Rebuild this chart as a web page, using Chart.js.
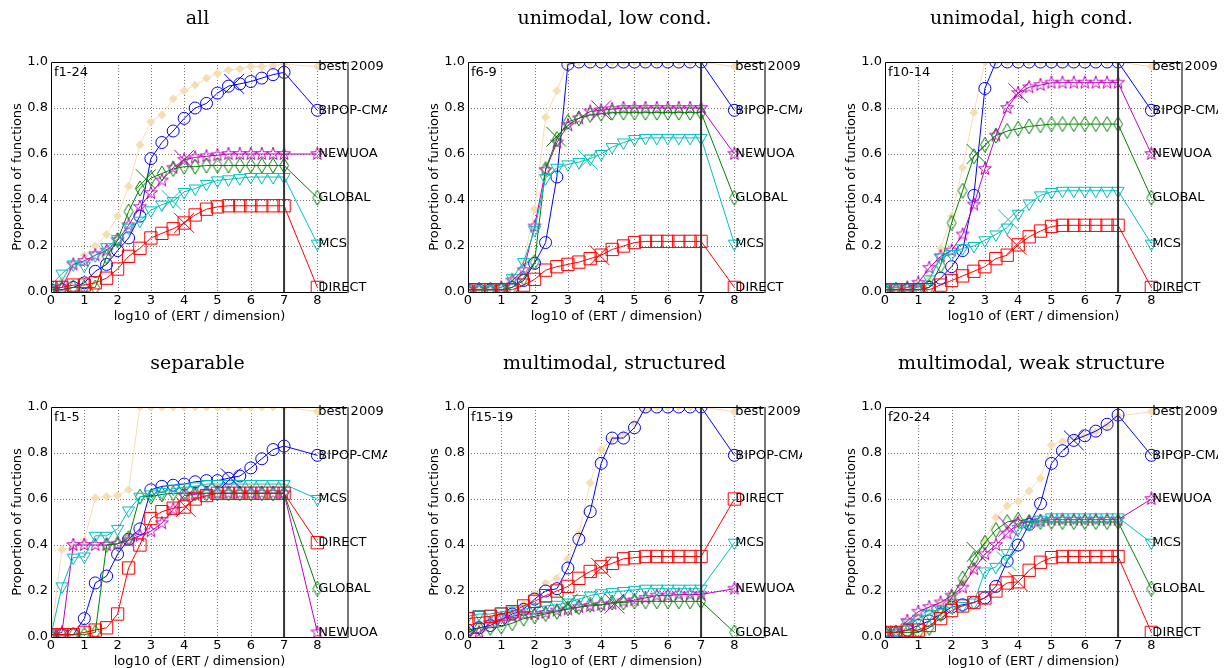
<!DOCTYPE html>
<html>
<head>
<meta charset="utf-8">
<script src="https://cdn.jsdelivr.net/npm/chart.js@4.4.0/dist/chart.umd.min.js"></script>
<style>
  body { margin: 0; background: #fff; width: 1229px; height: 668px; position: relative; overflow: hidden; }
  canvas { position: absolute; }
</style>
</head>
<body>
<canvas id="c1" width="387" height="332"></canvas>
<canvas id="c2" width="385" height="332"></canvas>
<canvas id="c3" width="384" height="332"></canvas>
<canvas id="c4" width="387" height="332"></canvas>
<canvas id="c5" width="385" height="332"></canvas>
<canvas id="c6" width="384" height="332"></canvas>
<script>
// x positions of the markers (log10 of ERT / dimension)
const xs = [0, 0.33, 0.67, 1, 1.33, 1.67, 2, 2.33, 2.67, 3, 3.33, 3.67, 4, 4.33, 4.67, 5, 5.33, 5.67, 6, 6.33, 6.67, 7];
const xTicks = [0, 1, 2, 3, 4, 5, 6, 7, 8];
const yTicks = [0, 0.2, 0.4, 0.6, 0.8, 1.0];
const algNames = ['best 2009', 'BIPOP-CMA', 'NEWUOA', 'GLOBAL', 'MCS', 'DIRECT'];

// all, f1-24
const allBest   = [0.01, 0.05, 0.12, 0.16, 0.2, 0.25, 0.33, 0.46, 0.64, 0.74, 0.77, 0.84, 0.875, 0.9, 0.93, 0.95, 0.965, 0.97, 0.98, 0.98, 0.985, 0.99];
const allBipop  = [0.01, 0.01, 0.02, 0.04, 0.09, 0.12, 0.18, 0.235, 0.33, 0.58, 0.65, 0.7, 0.755, 0.8, 0.82, 0.865, 0.895, 0.905, 0.915, 0.93, 0.945, 0.955];
const allNewuoa = [0.01, 0.02, 0.12, 0.135, 0.16, 0.18, 0.225, 0.29, 0.37, 0.43, 0.485, 0.54, 0.575, 0.585, 0.59, 0.595, 0.6, 0.6, 0.6, 0.6, 0.6, 0.6];
const allGlobal = [0.01, 0.01, 0.02, 0.02, 0.02, 0.155, 0.225, 0.35, 0.45, 0.495, 0.515, 0.535, 0.545, 0.545, 0.55, 0.55, 0.55, 0.55, 0.55, 0.55, 0.55, 0.55];
const allMcs    = [0.03, 0.08, 0.12, 0.115, 0.16, 0.195, 0.23, 0.28, 0.31, 0.355, 0.38, 0.395, 0.435, 0.45, 0.47, 0.485, 0.49, 0.495, 0.5, 0.5, 0.5, 0.5];
const allDirect = [0.02, 0.02, 0.03, 0.03, 0.04, 0.06, 0.1, 0.155, 0.19, 0.235, 0.255, 0.275, 0.3, 0.335, 0.36, 0.37, 0.375, 0.375, 0.375, 0.375, 0.375, 0.375];
const allEnd    = [0.98, 0.79, 0.6, 0.41, 0.21, 0.02];
const allCross  = [[1, 5.5, 0.905], [2, 4.0, 0.575], [3, 2.85, 0.49], [4, 3.62, 0.4], [5, 4.0, 0.3]];

// unimodal, low cond., f6-9
const lowBest   = [0.01, 0.01, 0.02, 0.03, 0.07, 0.13, 0.36, 0.76, 0.875, 1, 1, 1, 1, 1, 1, 1, 1, 1, 1, 1, 1, 1];
const lowBipop  = [0.01, 0.01, 0.01, 0.01, 0.02, 0.05, 0.125, 0.215, 0.5, 0.99, 1, 1, 1, 1, 1, 1, 1, 1, 1, 1, 1, 1];
const lowNewuoa = [0.01, 0.01, 0.01, 0.02, 0.05, 0.095, 0.285, 0.53, 0.65, 0.725, 0.755, 0.785, 0.79, 0.795, 0.8, 0.8, 0.8, 0.8, 0.8, 0.8, 0.8, 0.8];
const lowGlobal = [0.01, 0.01, 0.01, 0.01, 0.02, 0.06, 0.13, 0.535, 0.665, 0.74, 0.755, 0.77, 0.775, 0.78, 0.78, 0.78, 0.78, 0.78, 0.78, 0.78, 0.78, 0.78];
const lowMcs    = [0.01, 0.01, 0.01, 0.02, 0.06, 0.13, 0.27, 0.495, 0.54, 0.555, 0.565, 0.58, 0.6, 0.63, 0.65, 0.665, 0.67, 0.67, 0.67, 0.67, 0.67, 0.67];
const lowDirect = [0.01, 0.01, 0.01, 0.01, 0.01, 0.03, 0.055, 0.095, 0.11, 0.12, 0.13, 0.145, 0.16, 0.185, 0.2, 0.215, 0.22, 0.22, 0.22, 0.22, 0.22, 0.22];
const lowEnd    = [0.98, 0.79, 0.6, 0.41, 0.21, 0.02];
const lowCross  = [[2, 4.0, 0.79], [3, 2.65, 0.675], [4, 3.6, 0.575], [5, 3.95, 0.16]];

// unimodal, high cond., f10-14
const highBest   = [0.01, 0.01, 0.02, 0.03, 0.06, 0.19, 0.33, 0.54, 0.78, 1, 1, 1, 1, 1, 1, 1, 1, 1, 1, 1, 1, 1];
const highBipop  = [0.01, 0.01, 0.01, 0.01, 0.02, 0.06, 0.11, 0.18, 0.42, 0.885, 1, 1, 1, 1, 1, 1, 1, 1, 1, 1, 1, 1];
const highNewuoa = [0.01, 0.01, 0.02, 0.04, 0.105, 0.155, 0.18, 0.25, 0.38, 0.535, 0.68, 0.8, 0.865, 0.89, 0.9, 0.91, 0.91, 0.91, 0.91, 0.91, 0.91, 0.91];
const highGlobal = [0.01, 0.01, 0.01, 0.01, 0.02, 0.115, 0.3, 0.44, 0.59, 0.64, 0.68, 0.7, 0.71, 0.72, 0.725, 0.73, 0.73, 0.73, 0.73, 0.73, 0.73, 0.73];
const highMcs    = [0.01, 0.02, 0.02, 0.02, 0.055, 0.15, 0.165, 0.19, 0.2, 0.225, 0.25, 0.28, 0.34, 0.385, 0.42, 0.435, 0.44, 0.44, 0.44, 0.44, 0.44, 0.44];
const highDirect = [0.01, 0.01, 0.01, 0.01, 0.01, 0.03, 0.05, 0.07, 0.09, 0.11, 0.145, 0.16, 0.205, 0.24, 0.265, 0.285, 0.29, 0.29, 0.29, 0.29, 0.29, 0.29];
const highEnd    = [0.98, 0.79, 0.6, 0.41, 0.21, 0.02];
const highCross  = [[2, 4.0, 0.865], [3, 2.75, 0.6], [4, 3.7, 0.315], [5, 3.95, 0.205]];

// separable, f1-5
const sepBest   = [0.01, 0.38, 0.39, 0.42, 0.605, 0.61, 0.615, 0.64, 1, 1, 1, 1, 1, 1, 1, 1, 1, 1, 1, 1, 1, 1];
const sepBipop  = [0.01, 0.01, 0.01, 0.08, 0.235, 0.265, 0.36, 0.425, 0.47, 0.64, 0.655, 0.66, 0.665, 0.675, 0.68, 0.68, 0.69, 0.7, 0.735, 0.775, 0.815, 0.83];
const sepNewuoa = [0.01, 0.02, 0.4, 0.4, 0.4, 0.4, 0.405, 0.42, 0.44, 0.46, 0.495, 0.555, 0.615, 0.62, 0.625, 0.625, 0.625, 0.625, 0.625, 0.625, 0.625, 0.625];
const sepGlobal = [0.01, 0.01, 0.01, 0.01, 0.02, 0.4, 0.405, 0.43, 0.61, 0.61, 0.62, 0.625, 0.625, 0.625, 0.625, 0.625, 0.625, 0.625, 0.625, 0.625, 0.625, 0.625];
const sepMcs    = [0.01, 0.22, 0.345, 0.35, 0.44, 0.44, 0.47, 0.55, 0.61, 0.62, 0.63, 0.645, 0.65, 0.655, 0.665, 0.665, 0.665, 0.665, 0.665, 0.665, 0.665, 0.665];
const sepDirect = [0.01, 0.01, 0.01, 0.02, 0.03, 0.04, 0.1, 0.3, 0.4, 0.515, 0.545, 0.56, 0.565, 0.6, 0.615, 0.625, 0.625, 0.625, 0.625, 0.625, 0.625, 0.625];
const sepEnd    = [0.98, 0.79, 0.02, 0.21, 0.6, 0.41];
const sepCross  = [[1, 5.4, 0.69], [5, 4.05, 0.565]];

// multimodal, structured, f15-19
const mstrBest   = [0.04, 0.06, 0.08, 0.1, 0.12, 0.14, 0.19, 0.235, 0.255, 0.34, 0.45, 0.67, 0.815, 0.86, 0.88, 0.93, 0.99, 1, 1, 1, 1, 1];
const mstrBipop  = [0.03, 0.04, 0.05, 0.075, 0.1, 0.12, 0.165, 0.2, 0.21, 0.3, 0.425, 0.545, 0.755, 0.865, 0.865, 0.91, 1, 1, 1, 1, 1, 1];
const mstrNewuoa = [0.01, 0.02, 0.06, 0.08, 0.09, 0.1, 0.1, 0.105, 0.115, 0.12, 0.13, 0.135, 0.14, 0.145, 0.155, 0.16, 0.17, 0.18, 0.18, 0.185, 0.185, 0.185];
const mstrGlobal = [0.02, 0.04, 0.04, 0.045, 0.06, 0.08, 0.09, 0.1, 0.11, 0.125, 0.13, 0.14, 0.14, 0.15, 0.15, 0.155, 0.155, 0.155, 0.155, 0.155, 0.155, 0.155];
const mstrMcs    = [0.09, 0.1, 0.1, 0.11, 0.115, 0.12, 0.13, 0.135, 0.14, 0.15, 0.165, 0.18, 0.19, 0.195, 0.2, 0.205, 0.21, 0.21, 0.21, 0.21, 0.21, 0.21];
const mstrDirect = [0.08, 0.085, 0.09, 0.1, 0.11, 0.135, 0.155, 0.18, 0.2, 0.22, 0.255, 0.285, 0.305, 0.32, 0.34, 0.345, 0.35, 0.35, 0.35, 0.35, 0.35, 0.35];
const mstrEnd    = [0.98, 0.79, 0.21, 0.02, 0.41, 0.6];
const mstrCross  = [[2, 4.4, 0.145], [3, 3.0, 0.145], [5, 4.0, 0.3]];

// multimodal, weak structure, f20-24
const weakBest   = [0.02, 0.03, 0.06, 0.09, 0.12, 0.15, 0.18, 0.24, 0.3, 0.42, 0.52, 0.57, 0.59, 0.635, 0.69, 0.835, 0.85, 0.865, 0.875, 0.89, 0.92, 0.96];
const weakBipop  = [0.02, 0.02, 0.03, 0.05, 0.07, 0.1, 0.13, 0.14, 0.15, 0.17, 0.22, 0.33, 0.4, 0.49, 0.58, 0.755, 0.81, 0.855, 0.875, 0.895, 0.925, 0.965];
const weakNewuoa = [0.02, 0.02, 0.07, 0.11, 0.13, 0.15, 0.18, 0.215, 0.295, 0.36, 0.4, 0.45, 0.495, 0.5, 0.505, 0.51, 0.51, 0.51, 0.51, 0.51, 0.51, 0.51];
const weakGlobal = [0.02, 0.02, 0.02, 0.02, 0.04, 0.1, 0.17, 0.255, 0.34, 0.41, 0.465, 0.5, 0.51, 0.5, 0.5, 0.5, 0.5, 0.5, 0.5, 0.5, 0.5, 0.5];
const weakMcs    = [0.02, 0.03, 0.06, 0.08, 0.1, 0.12, 0.13, 0.135, 0.15, 0.285, 0.305, 0.365, 0.47, 0.49, 0.51, 0.52, 0.52, 0.52, 0.52, 0.52, 0.52, 0.52];
const weakDirect = [0.02, 0.02, 0.03, 0.03, 0.05, 0.08, 0.115, 0.135, 0.15, 0.17, 0.2, 0.235, 0.24, 0.29, 0.325, 0.345, 0.35, 0.35, 0.35, 0.35, 0.35, 0.35];
const weakEnd    = [0.98, 0.79, 0.6, 0.21, 0.41, 0.02];
const weakCross  = [[1, 5.67, 0.855], [2, 3.7, 0.48], [3, 2.75, 0.37], [4, 3.65, 0.33], [5, 4.0, 0.24]];

const colors = ['#F5DEB3', '#0000FF', '#BF00BF', '#008000', '#00BFBF', '#FF0000'];
const SANS = '"DejaVu Sans", sans-serif';
const SERIF = '"DejaVu Serif", serif';

function starImg(color) {
    const c = document.createElement('canvas');
    c.width = 16; c.height = 16;
    const g = c.getContext('2d');
    g.strokeStyle = color; g.lineWidth = 1;
    g.beginPath();
    for (let k = 0; k < 10; k++) {
        const r = k % 2 ? 2.7 : 6.8;
        const a = -Math.PI / 2 + k * Math.PI / 5;
        g.lineTo(8 + r * Math.cos(a), 8 + r * Math.sin(a));
    }
    g.closePath();
    g.stroke();
    return c;
}

function diamondImg(color) {
    const c = document.createElement('canvas');
    c.width = 12; c.height = 17;
    const g = c.getContext('2d');
    g.strokeStyle = color; g.lineWidth = 1;
    g.beginPath();
    g.moveTo(6, 1); g.lineTo(10.5, 8.5); g.lineTo(6, 16); g.lineTo(1.5, 8.5);
    g.closePath();
    g.stroke();
    return c;
}

const pointStyles = ['rectRot', 'circle', starImg(colors[2]), diamondImg(colors[3]), 'triangle', 'rect'];
const pointRadii = [4, 6, 6, 6, 7, 8.7];
const pointRots = [0, 0, 0, 0, 180, 0];

const panels = [
    { id: 'c1', left: 0,   top: 0,   title: 'all', tag: 'f1-24',
      series: [allBest, allBipop, allNewuoa, allGlobal, allMcs, allDirect], ends: allEnd, crosses: allCross },
    { id: 'c2', left: 417, top: 0,   title: 'unimodal, low cond.', tag: 'f6-9',
      series: [lowBest, lowBipop, lowNewuoa, lowGlobal, lowMcs, lowDirect], ends: lowEnd, crosses: lowCross },
    { id: 'c3', left: 834, top: 0,   title: 'unimodal, high cond.', tag: 'f10-14',
      series: [highBest, highBipop, highNewuoa, highGlobal, highMcs, highDirect], ends: highEnd, crosses: highCross },
    { id: 'c4', left: 0,   top: 345, title: 'separable', tag: 'f1-5',
      series: [sepBest, sepBipop, sepNewuoa, sepGlobal, sepMcs, sepDirect], ends: sepEnd, crosses: sepCross },
    { id: 'c5', left: 417, top: 345, title: 'multimodal, structured', tag: 'f15-19',
      series: [mstrBest, mstrBipop, mstrNewuoa, mstrGlobal, mstrMcs, mstrDirect], ends: mstrEnd, crosses: mstrCross },
    { id: 'c6', left: 834, top: 345, title: 'multimodal, weak structure', tag: 'f20-24',
      series: [weakBest, weakBipop, weakNewuoa, weakGlobal, weakMcs, weakDirect], ends: weakEnd, crosses: weakCross },
];

// grid, frame, labels and titles drawn against the chart's own scales
const decorPlugin = {
    id: 'decor',
    beforeDatasetsDraw(chart) {
        const { ctx, chartArea: a, scales: { x, y } } = chart;
        ctx.save();
        ctx.strokeStyle = '#777';
        ctx.lineWidth = 1;
        ctx.setLineDash([1, 2]);
        xTicks.slice(1).forEach(v => {
            const px = Math.round(x.getPixelForValue(v)) + 0.5;
            ctx.beginPath(); ctx.moveTo(px, a.top); ctx.lineTo(px, a.bottom); ctx.stroke();
        });
        yTicks.slice(1, -1).forEach(v => {
            const py = Math.round(y.getPixelForValue(v)) + 0.5;
            ctx.beginPath(); ctx.moveTo(a.left, py); ctx.lineTo(a.right, py); ctx.stroke();
        });
        ctx.restore();
    },
    afterDatasetsDraw(chart, args, opts) {
        const { ctx, chartArea: a, scales: { x, y } } = chart;
        const p = opts.panel;
        ctx.save();
        // vertical line at the budget
        const x7 = x.getPixelForValue(7);
        ctx.strokeStyle = '#333';
        ctx.lineWidth = 2;
        ctx.beginPath(); ctx.moveTo(x7, a.top); ctx.lineTo(x7, a.bottom); ctx.stroke();
        // frame
        ctx.strokeStyle = '#000';
        ctx.lineWidth = 1;
        ctx.beginPath();
        ctx.moveTo(a.right, a.top + 0.5); ctx.lineTo(a.left + 0.5, a.top + 0.5);
        ctx.lineTo(a.left + 0.5, a.bottom + 0.5); ctx.lineTo(a.right, a.bottom + 0.5);
        ctx.stroke();
        ctx.strokeStyle = '#777';
        ctx.lineWidth = 2;
        ctx.beginPath(); ctx.moveTo(a.right, a.top); ctx.lineTo(a.right, a.bottom + 1); ctx.stroke();
        // algorithm names at x = 8
        ctx.fillStyle = '#000';
        ctx.font = '13px ' + SANS;
        ctx.textBaseline = 'middle';
        ctx.textAlign = 'left';
        const x8 = x.getPixelForValue(8);
        algNames.forEach((name, i) => ctx.fillText(name, x8 + 1, y.getPixelForValue(p.ends[i])));
        // function group tag
        ctx.fillText(p.tag, a.left + 3, a.top + 11);
        // axis titles
        ctx.textAlign = 'center';
        ctx.fillText('log10 of (ERT / dimension)', (a.left + a.right) / 2, a.bottom + 25);
        ctx.save();
        ctx.translate(18, (a.top + a.bottom) / 2);
        ctx.rotate(-Math.PI / 2);
        ctx.fillText('Proportion of functions', 0, 0);
        ctx.restore();
        // panel title
        ctx.font = '19px ' + SERIF;
        ctx.fillText(p.title, (a.left + a.right) / 2 - 2, 19);
        ctx.restore();
    }
};

panels.forEach(p => {
    const el = document.getElementById(p.id);
    el.style.left = p.left + 'px';
    el.style.top = p.top + 'px';
    const datasets = p.series.map((vals, i) => {
        const data = xs.map((xv, k) => ({ x: xv, y: vals[k] }));
        data.push({ x: 8, y: p.ends[i] });
        return {
            label: algNames[i],
            data,
            borderColor: colors[i],
            borderWidth: 1,
            pointStyle: pointStyles[i],
            pointRadius: pointRadii[i],
            pointRotation: pointRots[i],
            pointBorderColor: colors[i],
            pointBorderWidth: 1,
            pointBackgroundColor: i === 0 ? colors[0] : 'rgba(0,0,0,0)',
            tension: 0,
            order: 10 - i
        };
    });
    datasets.push({
        type: 'scatter',
        label: 'crosses',
        data: p.crosses.map(c => ({ x: c[1], y: c[2] })),
        pointStyle: 'crossRot',
        pointRadius: 14,
        pointBorderWidth: 1,
        pointBorderColor: p.crosses.map(c => colors[c[0]]),
        showLine: false,
        order: 0
    });
    new Chart(el, {
        type: 'line',
        data: { datasets },
        options: {
            responsive: false,
            animation: false,
            events: [],
            layout: { padding: { left: 0, top: 62, right: el.width - 348, bottom: 0 } },
            scales: {
                x: {
                    type: 'linear', min: 0, max: 8.92,
                    afterBuildTicks: s => { s.ticks = xTicks.map(v => ({ value: v })); },
                    afterFit: s => { s.height = 40; },
                    grid: { display: false, drawTicks: false },
                    border: { display: false },
                    ticks: { color: '#000', font: { family: SANS, size: 13 }, padding: 1, maxRotation: 0, autoSkip: false, callback: v => String(v) }
                },
                y: {
                    type: 'linear', min: 0, max: 1,
                    afterBuildTicks: s => { s.ticks = yTicks.map(v => ({ value: v })); },
                    afterFit: s => { s.width = 51; },
                    grid: { display: false, drawTicks: false },
                    border: { display: false },
                    ticks: { color: '#000', font: { family: SANS, size: 13 }, padding: 3, callback: v => v.toFixed(1) }
                }
            },
            plugins: {
                legend: { display: false },
                tooltip: { enabled: false },
                decor: { panel: p }
            }
        },
        plugins: [decorPlugin]
    });
});
</script>
</body>
</html>
